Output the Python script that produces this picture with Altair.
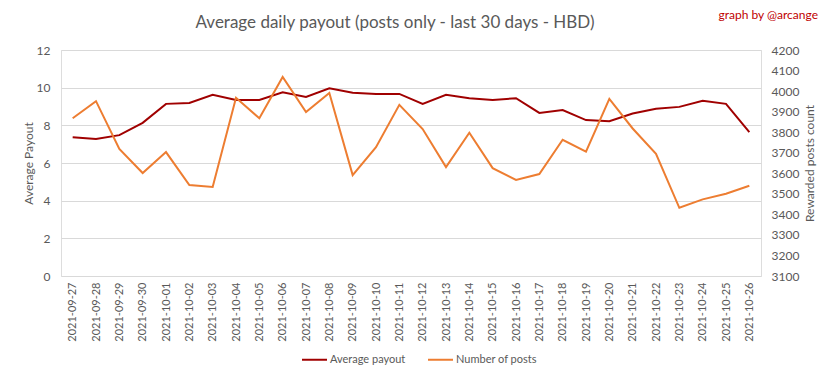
import altair as alt
import pandas as pd

dates = ["2021-09-27", "2021-09-28", "2021-09-29", "2021-09-30", "2021-10-01",
         "2021-10-02", "2021-10-03", "2021-10-04", "2021-10-05", "2021-10-06",
         "2021-10-07", "2021-10-08", "2021-10-09", "2021-10-10", "2021-10-11",
         "2021-10-12", "2021-10-13", "2021-10-14", "2021-10-15", "2021-10-16",
         "2021-10-17", "2021-10-18", "2021-10-19", "2021-10-20", "2021-10-21",
         "2021-10-22", "2021-10-23", "2021-10-24", "2021-10-25", "2021-10-26"]

avg_payout = [7.37, 7.27, 7.48, 8.13, 9.14, 9.19, 9.62, 9.35, 9.35, 9.76,
              9.51, 9.97, 9.73, 9.67, 9.67, 9.14, 9.62, 9.44, 9.35, 9.44,
              8.66, 8.81, 8.28, 8.22, 8.63, 8.88, 8.98, 9.30, 9.14, 7.64]

num_posts = [3868, 3951, 3719, 3601, 3703, 3543, 3533, 3967, 3868, 4069,
             3898, 3991, 3591, 3727, 3933, 3815, 3630, 3797, 3625, 3568,
             3596, 3763, 3705, 3962, 3818, 3695, 3432, 3473, 3500, 3539]

series_names = ["Average payout", "Number of posts"]
series_colors = ["#A00000", "#ED7D31"]

title_text = "Average daily payout (posts only - last 30 days - HBD)"
credit_text = "graph by @arcange"

df = pd.DataFrame({"date": dates, "payout": avg_payout, "posts": num_posts})

FONT = "Lato"
GREY = "#595959"

color_scale = alt.Scale(domain=series_names, range=series_colors)
legend = alt.Legend(
    title=None, orient="none", legendX=240, legendY=296, direction="horizontal",
    symbolType="stroke", symbolSize=625, symbolStrokeWidth=2,
    labelFont=FONT, labelFontSize=11, labelColor=GREY, columnPadding=18,
    labelOffset=2, padding=0,
)

xaxis = alt.Axis(title=None, labelAngle=270, labelFont=FONT, labelFontSize=11,
                 labelColor=GREY, ticks=False, domain=False, grid=False,
                 labelPadding=6)

base = alt.Chart(df).encode(x=alt.X("date:O", sort=None, axis=xaxis))

line1 = base.transform_calculate(series="'Average payout'").mark_line(strokeWidth=2).encode(
    y=alt.Y("payout:Q", scale=alt.Scale(domain=[0, 12], nice=False),
            axis=alt.Axis(title="Average Payout", values=[0, 2, 4, 6, 8, 10, 12],
                          grid=True, gridColor="#D9D9D9", ticks=False, domain=False,
                          labelFont=FONT, labelFontSize=12, labelColor=GREY, labelPadding=11,
                          titleFont=FONT, titleFontSize=12, titleColor=GREY,
                          titleFontWeight="normal", titleAngle=270,
                          titleX=-33, titleY=113, titleAlign="center",
                          titleBaseline="middle")),
    color=alt.Color("series:N", scale=color_scale, legend=legend),
)

line2 = base.transform_calculate(series="'Number of posts'").mark_line(strokeWidth=2).encode(
    y=alt.Y("posts:Q", scale=alt.Scale(domain=[3100, 4200], nice=False),
            axis=alt.Axis(title="Rewarded posts count", orient="right",
                          values=list(range(3100, 4201, 100)), format="d",
                          grid=False, ticks=False, domain=False,
                          labelFont=FONT, labelFontSize=12, labelColor=GREY, labelPadding=10,
                          titleFont=FONT, titleFontSize=12, titleColor=GREY,
                          titleFontWeight="normal", titleAngle=270,
                          titleX=48, titleY=113, titleAlign="center",
                          titleBaseline="middle")),
    color=alt.Color("series:N", scale=color_scale, legend=legend),
)

title = alt.Chart(pd.DataFrame({"t": [title_text]})).mark_text(
    font=FONT, fontSize=17, color=GREY, align="center", baseline="middle"
).encode(text="t:N", x=alt.value(334), y=alt.value(-27))

credit = alt.Chart(pd.DataFrame({"t": [credit_text]})).mark_text(
    font=FONT, fontSize=12, color="#C00000", align="right", baseline="middle"
).encode(text="t:N", x=alt.value(757), y=alt.value(-35))

chart = alt.layer(line1, line2, title, credit).resolve_scale(y="independent").properties(
    width=700, height=226,
    autosize=alt.AutoSizeParams(type="none"),
    padding={"left": 53, "top": 42, "right": 64, "bottom": 95},
).configure_view(stroke=None).configure(background="white")

chart.save("out.html", embed_options={"renderer": "svg", "actions": False})
